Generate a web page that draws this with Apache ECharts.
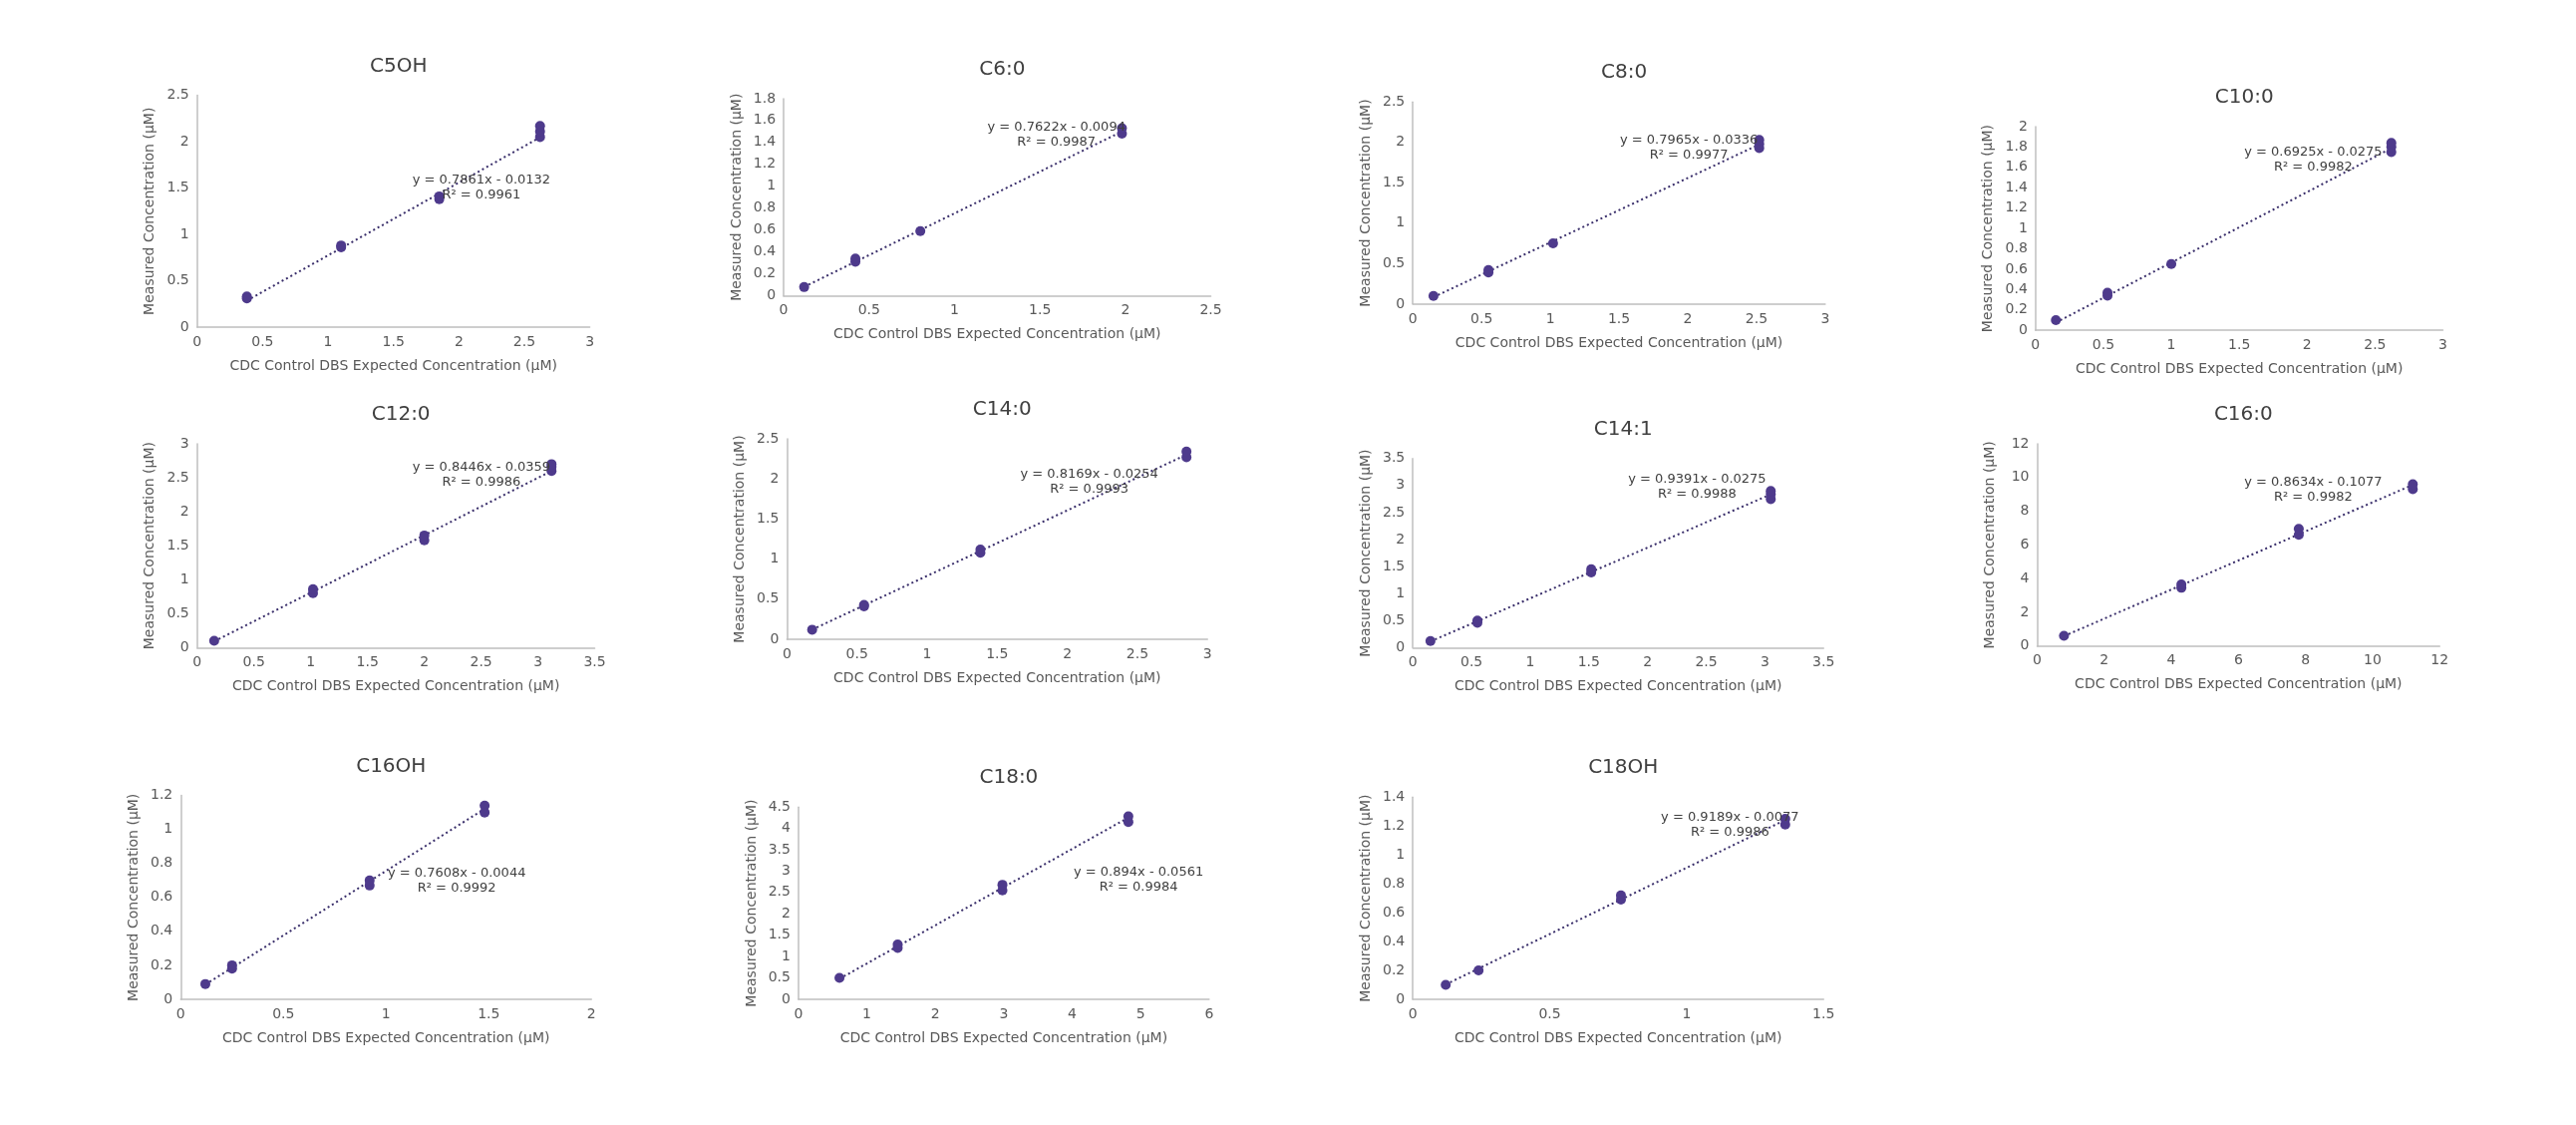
<!DOCTYPE html>
<html><head><meta charset="utf-8">
<script src="https://cdn.jsdelivr.net/npm/echarts@6/dist/echarts.min.js"></script>
<style>html,body{margin:0;background:#fff}#c{width:2584px;height:1128px}</style>
</head><body><div id="c"></div>
<script>
const titles = ["C5OH","C6:0","C8:0","C10:0","C12:0","C14:0","C14:1","C16:0","C16OH","C18:0","C18OH"];
const slopes = [0.7861,0.7622,0.7965,0.6925,0.8446,0.8169,0.9391,0.8634,0.7608,0.894,0.9189];
const intercepts = [-0.0132,-0.0094,-0.0336,-0.0275,-0.0359,-0.0254,-0.0275,-0.1077,-0.0044,-0.0561,-0.0077];
const eqTexts = ["y = 0.7861x - 0.0132","y = 0.7622x - 0.0094","y = 0.7965x - 0.0336","y = 0.6925x - 0.0275","y = 0.8446x - 0.0359","y = 0.8169x - 0.0254","y = 0.9391x - 0.0275","y = 0.8634x - 0.1077","y = 0.7608x - 0.0044","y = 0.894x - 0.0561","y = 0.9189x - 0.0077"];
const r2Texts = ["R² = 0.9961","R² = 0.9987","R² = 0.9977","R² = 0.9982","R² = 0.9986","R² = 0.9993","R² = 0.9988","R² = 0.9982","R² = 0.9992","R² = 0.9984","R² = 0.9986"];
const xMax = [3,2.5,3,3,3.5,3,3.5,12,2,6,1.5];
const xStep = [0.5,0.5,0.5,0.5,0.5,0.5,0.5,2,0.5,1,0.5];
const yMax = [2.5,1.8,2.5,2,3,2.5,3.5,12,1.2,4.5,1.4];
const yStep = [0.5,0.2,0.5,0.2,0.5,0.5,0.5,2,0.2,0.5,0.2];
const pts_C5OH = [[0.38,0.31],[0.38,0.33],[1.1,0.86],[1.1,0.88],[1.85,1.38],[1.85,1.41],[2.62,2.05],[2.62,2.11],[2.62,2.17]];
const pts_C6 = [[0.12,0.08],[0.42,0.31],[0.42,0.34],[0.8,0.59],[1.98,1.48],[1.98,1.53]];
const pts_C8 = [[0.15,0.1],[0.55,0.39],[0.55,0.42],[1.02,0.75],[2.52,1.93],[2.52,1.98],[2.52,2.03]];
const pts_C10 = [[0.15,0.1],[0.53,0.34],[0.53,0.37],[1.0,0.65],[2.62,1.75],[2.62,1.8],[2.62,1.84]];
const pts_C12 = [[0.15,0.1],[1.02,0.8],[1.02,0.86],[2.0,1.58],[2.0,1.65],[3.12,2.6],[3.12,2.66],[3.12,2.7]];
const pts_C14 = [[0.18,0.12],[0.55,0.41],[0.55,0.43],[1.38,1.08],[1.38,1.12],[2.85,2.27],[2.85,2.34]];
const pts_C141 = [[0.15,0.12],[0.55,0.46],[0.55,0.5],[1.52,1.39],[1.52,1.45],[3.05,2.75],[3.05,2.84],[3.05,2.9]];
const pts_C16 = [[0.8,0.6],[4.3,3.45],[4.3,3.65],[7.8,6.6],[7.8,6.95],[11.2,9.3],[11.2,9.6]];
const pts_C16OH = [[0.12,0.09],[0.25,0.18],[0.25,0.2],[0.92,0.67],[0.92,0.7],[1.48,1.1],[1.48,1.14]];
const pts_C18 = [[0.6,0.5],[1.45,1.2],[1.45,1.28],[2.98,2.55],[2.98,2.68],[4.82,4.15],[4.82,4.28]];
const pts_C18OH = [[0.12,0.1],[0.24,0.2],[0.76,0.69],[0.76,0.72],[1.36,1.21],[1.36,1.25]];
const allPts = [pts_C5OH,pts_C6,pts_C8,pts_C10,pts_C12,pts_C14,pts_C141,pts_C16,pts_C16OH,pts_C18,pts_C18OH];

const S = 2584/1568;
const boxes = [
 [120,359,58,199],[477,737,60,180],[860,1111,62,185],[1239,1487,77,201],
 [120,362,270,394],[479,735,267,389],[860,1110,279,394],[1240,1485,270,393],
 [110,360,484,608],[486,736,491,608],[860,1110,485,608]];
const eqPos = [[290,108],[640,76],[1025,84],[1405,91],[290,283],[660,287],[1030,290],[1405,292],[275,530],[690,529],[1050,496]];

const F='Verdana, DejaVu Sans';
const grid=[],xAxis=[],yAxis=[],series=[],title=[];
const axisCommon = {axisLine:{show:true,lineStyle:{color:'#bfbfbf',width:1.5}},axisTick:{show:false},splitLine:{show:false},
  axisLabel:{color:'#595959',fontSize:14,fontFamily:F}};
titles.forEach((t,i)=>{
  const b=boxes[i].map(v=>v*S);
  grid.push({left:b[0],top:b[2],width:b[1]-b[0],height:b[3]-b[2]});
  xAxis.push(Object.assign({gridIndex:i,type:'value',min:0,max:xMax[i],interval:xStep[i],
    name:'CDC Control DBS Expected Concentration (µM)',nameLocation:'middle',nameGap:32,
    nameTextStyle:{color:'#595959',fontSize:14,fontFamily:F}},axisCommon));
  yAxis.push(Object.assign({gridIndex:i,type:'value',min:0,max:yMax[i],interval:yStep[i],
    name:'Measured Concentration (µM)',nameLocation:'middle',nameGap:40,
    nameTextStyle:{color:'#595959',fontSize:14,fontFamily:F}},axisCommon));
  title.push({text:t,left:(b[0]+b[1])/2,top:b[2]-44,textAlign:'center',
    textStyle:{fontSize:20,fontWeight:'normal',color:'#404040',fontFamily:F}});
  title.push({text:eqTexts[i]+'\n'+r2Texts[i],left:eqPos[i][0]*S,top:eqPos[i][1]*S-10,textAlign:'center',
    textStyle:{fontSize:13,fontWeight:'normal',color:'#404040',lineHeight:15,align:'center',fontFamily:F}});
  const p=allPts[i];
  const xs=p.map(d=>d[0]);const x0=Math.min(...xs),x1=Math.max(...xs);
  series.push({type:'scatter',xAxisIndex:i,yAxisIndex:i,data:p,symbolSize:10,
    itemStyle:{color:'#4e3a8c',opacity:1},z:3});
  series.push({type:'line',xAxisIndex:i,yAxisIndex:i,symbol:'none',silent:true,
    data:[[x0,slopes[i]*x0+intercepts[i]],[x1,slopes[i]*x1+intercepts[i]]],
    lineStyle:{color:'#3a2f6b',width:2,type:[2,3]},z:2});
});
const chart=echarts.init(document.getElementById('c'));
chart.setOption({animation:false,title,grid,xAxis,yAxis,series});
</script></body></html>
